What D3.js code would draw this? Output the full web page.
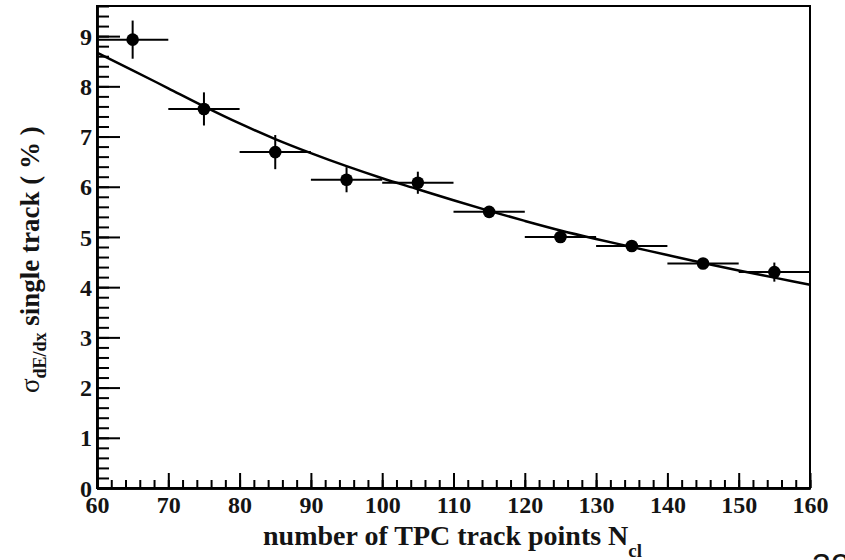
<!DOCTYPE html>
<html>
<head>
<meta charset="utf-8">
<script src="https://cdn.jsdelivr.net/npm/d3@7"></script>
<style>
  html, body { margin: 0; padding: 0; background: #fff; }
  svg text { fill: #141414; }
</style>
</head>
<body>
<div id="chart"></div>
<script>
		// data
		var xTicks = [60, 70, 80, 90, 100, 110, 120, 130, 140, 150, 160];
		var xMinor = d3.range(60, 161, 2);
		var yTicks = [0, 1, 2, 3, 4, 5, 6, 7, 8, 9];
		var yMinor = d3.range(0, 9.61, 0.2);

		var nPoints = [65, 75, 85, 95, 105, 115, 125, 135, 145, 155];
		var nErr = [5, 5, 5, 5, 5, 5, 5, 5, 5, 5];
		var sigma = [8.93, 7.55, 6.69, 6.14, 6.08, 5.50, 5.00, 4.82, 4.47, 4.30];
		var sigmaErr = [0.38, 0.33, 0.34, 0.25, 0.22, 0.08, 0.08, 0.08, 0.08, 0.19];

		// fitted curve
		var fitN = [60, 65, 70, 75, 80, 85, 90, 95, 100, 105, 110, 115, 120, 125, 130, 135, 140, 145, 150, 155, 160];
		var fitSigma = [8.67, 8.32, 7.96, 7.60, 7.26, 6.95, 6.67, 6.41, 6.17, 5.95, 5.73, 5.52, 5.32, 5.13, 4.96, 4.80, 4.64, 4.48, 4.33, 4.19, 4.05];

		var width = 845;
		var height = 560;
		var margin = { left: 97, right: 35, top: 6, bottom: 72 };
		var plotW = width - margin.left - margin.right;
		var plotH = height - margin.top - margin.bottom;
		var serif = "'Liberation Serif', 'Times New Roman', serif";

		var svg = d3.select("#chart").append("svg")
			.attr("width", width)
			.attr("height", height);

		var g = svg.append("g")
			.attr("transform", "translate(" + margin.left + "," + margin.top + ")");

		var x = d3.scaleLinear().domain([60, 160]).range([0, plotW]);
		var y = d3.scaleLinear().domain([0, 9.6]).range([plotH, 0]);

		// minor ticks first
		g.append("g")
			.attr("transform", "translate(0," + plotH + ")")
			.call(d3.axisBottom(x).tickValues(xMinor).tickSizeInner(-8).tickSizeOuter(0).tickFormat(""));

		g.append("g")
			.call(d3.axisLeft(y).tickValues(yMinor).tickSizeInner(-12).tickSizeOuter(0).tickFormat(""));

		// major ticks + labels
		var xAxis = g.append("g")
			.attr("transform", "translate(0," + plotH + ")")
			.call(d3.axisBottom(x).tickValues(xTicks).tickSizeInner(-15).tickSizeOuter(0));

		var yAxis = g.append("g")
			.call(d3.axisLeft(y).tickValues(yTicks).tickSizeInner(-23).tickSizeOuter(0).tickPadding(5));

		g.selectAll(".tick line").attr("stroke", "#000").attr("stroke-width", 2);
		g.selectAll(".domain").attr("stroke", "#000").attr("stroke-width", 2.5);

		xAxis.selectAll("text")
			.attr("font-family", serif)
			.attr("font-weight", "bold")
			.attr("font-size", 24)
			.attr("dy", null)
			.attr("y", 25);

		yAxis.selectAll("text")
			.attr("font-family", serif)
			.attr("font-weight", "bold")
			.attr("font-size", 24)
			.attr("dy", "0.34em");

		// frame
		g.append("rect")
			.attr("x", 0)
			.attr("y", 0)
			.attr("width", plotW)
			.attr("height", plotH)
			.attr("fill", "none")
			.attr("stroke", "#000")
			.attr("stroke-width", 2);

		// fit line
		var line = d3.line()
			.x(function(d, i) { return x(fitN[i]); })
			.y(function(d) { return y(d); })
			.curve(d3.curveMonotoneX);

		g.append("path")
			.datum(fitSigma)
			.attr("d", line)
			.attr("fill", "none")
			.attr("stroke", "#000")
			.attr("stroke-width", 2.5);

		// error bars
		var pts = g.append("g").selectAll("g")
			.data(nPoints)
			.enter().append("g");

		pts.append("line")
			.attr("x1", function(d, i) { return x(d - nErr[i]); })
			.attr("x2", function(d, i) { return x(d + nErr[i]); })
			.attr("y1", function(d, i) { return y(sigma[i]); })
			.attr("y2", function(d, i) { return y(sigma[i]); })
			.attr("stroke", "#000")
			.attr("stroke-width", 2);

		pts.append("line")
			.attr("x1", function(d) { return x(d); })
			.attr("x2", function(d) { return x(d); })
			.attr("y1", function(d, i) { return y(sigma[i] + sigmaErr[i]); })
			.attr("y2", function(d, i) { return y(sigma[i] - sigmaErr[i]); })
			.attr("stroke", "#000")
			.attr("stroke-width", 2);

		pts.append("circle")
			.attr("cx", function(d) { return x(d); })
			.attr("cy", function(d, i) { return y(sigma[i]); })
			.attr("r", 6.3)
			.attr("fill", "#000");

		// axis titles
		var xt = svg.append("text")
			.attr("x", 263)
			.attr("y", 545)
			.attr("font-family", serif)
			.attr("font-weight", "bold")
			.attr("font-size", 28);
		xt.append("tspan").text("number of TPC track points N");
		xt.append("tspan").attr("font-size", 19).attr("dy", 12).text("cl");

		var yt = svg.append("text")
			.attr("transform", "translate(39,393) rotate(-90)")
			.attr("font-family", serif)
			.attr("font-size", 27);
		yt.append("tspan").text("σ");
		yt.append("tspan").attr("font-size", 18).attr("dy", 7).attr("font-weight", "bold").text("dE/dx");
		yt.append("tspan").attr("dy", -7).attr("font-weight", "bold").text(" single track ( % )");

		// page number, cut off at the bottom edge
		svg.append("text")
			.attr("x", 812)
			.attr("y", 577)
			.attr("font-family", "'Liberation Sans', Arial, sans-serif")
			.attr("font-size", 34)
			.text("32");
</script>
</body>
</html>
